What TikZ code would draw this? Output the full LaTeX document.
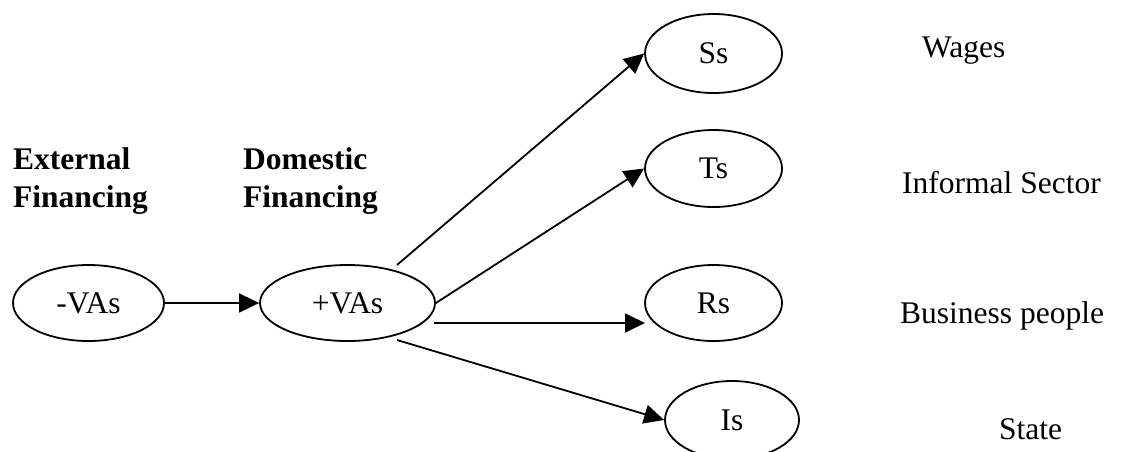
\documentclass[tikz,border=0pt]{standalone}
\usepackage{fontspec}
\setmainfont{Liberation Serif}
\usetikzlibrary{arrows.meta,shapes.geometric}
\begin{document}
\begin{tikzpicture}[x=1pt,y=-1pt,
  every node/.style={font=\fontsize{31.5}{38}\selectfont, inner sep=0pt},
  oval/.style={ellipse, draw, line width=1.8pt},
  flow/.style={line width=1.8pt, -{Triangle[length=20pt,width=19pt]}},
  heading/.style={font=\fontsize{31.5}{38}\selectfont\bfseries, align=left, anchor=base west},
  side/.style={anchor=base west}]
\useasboundingbox (0,0) rectangle (1121,451);

% ellipses (the two left ones carry their text a little left of centre)
\node[oval, minimum width=151pt, minimum height=76pt] (minus) at (88.5,303) {-VAs\hspace{11pt}};
\node[oval, minimum width=175pt, minimum height=76pt] (plus) at (347.5,303) {+VAs\hspace{20pt}};
\node[oval, minimum width=137pt, minimum height=79pt] (Ss) at (713.5,53.5) {Ss};
\node[oval, minimum width=137pt, minimum height=77pt] (Ts) at (713.5,168.5) {Ts};
\node[oval, minimum width=137pt, minimum height=76pt] (Rs) at (713.5,303) {Rs};
\node[oval, minimum width=134pt, minimum height=78pt] (Is) at (732,420) {Is};

% column headings (base anchor sits on the last line)
\node[heading] (ext) at (13,207) {External\\Financing};
\node[heading] (dom) at (243,207) {Domestic\\Financing};

% labels on the right
\node[side] (wages) at (922,57) {Wages};
\node[side] (informal) at (902,193) {Informal Sector};
\node[side] (business) at (900,323) {Business people};
\node[side] (state) at (999,439) {State};

% connectors
\draw[flow] (minus.east) -- (plus.west);
\draw[flow] ([shift={(49.5,-38)}]plus.center) -- (Ss.west);
\draw[flow] (plus.east) -- (Ts.west);
\draw[flow] ([shift={(86.5,20)}]plus.center) -- ([shift={(-68.5,20)}]Rs.center);
\draw[flow] ([shift={(49.5,37)}]plus.center) -- (Is.west);
\end{tikzpicture}
\end{document}
